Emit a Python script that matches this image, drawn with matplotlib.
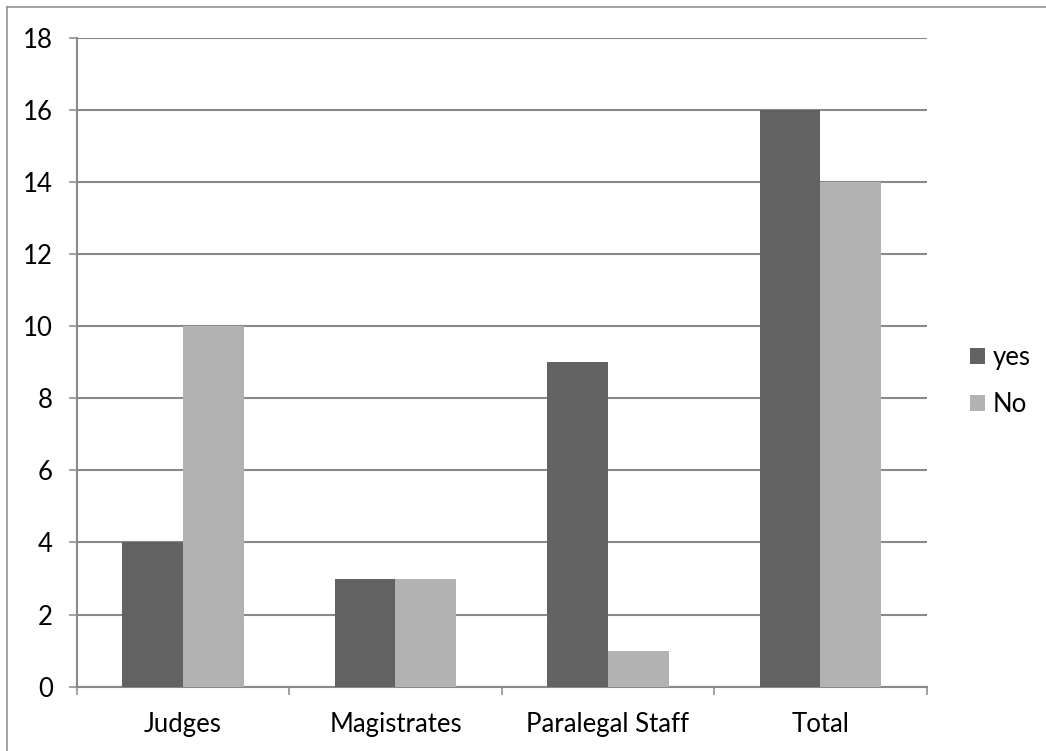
import matplotlib.pyplot as plt
import numpy as np
from matplotlib.lines import Line2D

plt.rcParams['font.family'] = ['Lato', 'DejaVu Sans']

categories = ['Judges', 'Magistrates', 'Paralegal Staff', 'Total']
yes = [4, 3, 9, 16]
no = [10, 3, 1, 14]

dark = '#626262'
light = '#b2b2b2'
grid = '#898989'
fs = 18.5

fig = plt.figure(figsize=(10.46, 7.51), dpi=100)
ax = fig.add_axes([0.0733, 0.0856, 0.8127, 0.8642])

x = np.arange(len(categories))
w = 1 / 3.5  # gap width 150%
ax.bar(x - w / 2, yes, w, color=dark, label='yes', zorder=3)
ax.bar(x + w / 2, no, w, color=light, label='No', zorder=3)

ax.set_xlim(-0.5, len(categories) - 0.5)
ax.set_ylim(0, 18)
ax.set_yticks(range(0, 19, 2))
ax.yaxis.grid(True, color=grid, linewidth=1.5, zorder=0)

# category boundaries get the tick marks, names sit in between
ax.set_xticks(np.arange(-0.5, len(categories), 1))
ax.set_xticklabels([])
ax.set_xticks(x, minor=True)
ax.set_xticklabels(categories, minor=True)
ax.tick_params(axis='x', which='major', direction='out', length=6, width=1.1, color=grid)
ax.tick_params(axis='x', which='minor', length=0, pad=18, labelsize=fs)
ax.tick_params(axis='y', direction='out', length=6, width=1.1, color=grid, pad=11, labelsize=fs)

for side in ['top', 'right']:
    ax.spines[side].set_visible(False)
for side in ['left', 'bottom']:
    ax.spines[side].set_color(grid)
    ax.spines[side].set_linewidth(1.5)

fig.legend(loc='center left', bbox_to_anchor=(0.927, 0.4927), frameon=False,
           fontsize=fs, handlelength=0.58, handleheight=0.58, handletextpad=0.3,
           labelspacing=0.85, borderpad=0, borderaxespad=0)

# outer frame (top and left edges)
fig.add_artist(Line2D([7 / 1046, 7 / 1046], [0, 1 - 7 / 751], color='#8c8c8c', linewidth=1.1))
fig.add_artist(Line2D([7 / 1046, 1], [1 - 7 / 751, 1 - 7 / 751], color='#8c8c8c', linewidth=1.1))

fig.savefig('out.png', dpi=100, facecolor='white')
